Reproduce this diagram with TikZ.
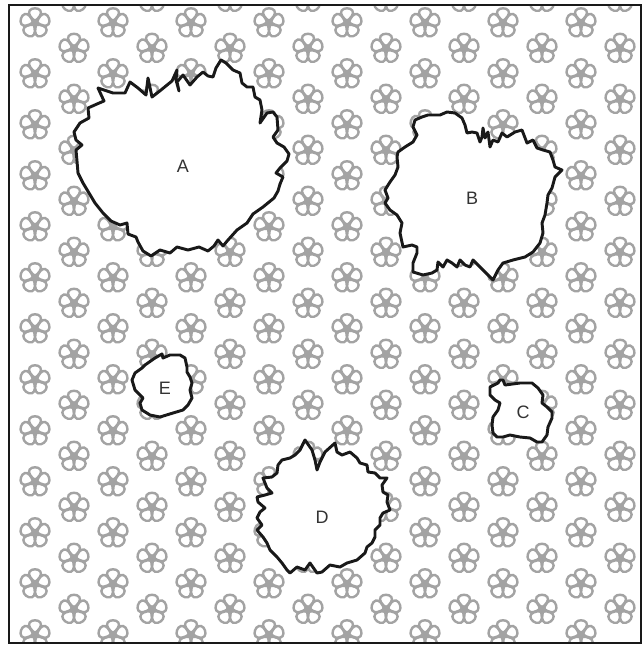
\documentclass[tikz,border=0pt]{standalone}
\usepackage{fontspec}
\setmainfont{Liberation Sans}
\definecolor{flowergray}{RGB}{163,163,163}
\definecolor{inkline}{RGB}{25,25,25}
\tikzset{
  blob/.style={draw=inkline, line width=2.2pt, fill=white, line join=round, line cap=round},
  lbl/.style={font=\fontsize{13.5}{15}\selectfont, text=black!80, inner sep=0pt},
  petal/.style={draw=flowergray, line width=1.8pt, fill=white},
  frameline/.style={draw=inkline, line width=1.5pt},
  flower/.pic={
    \foreach \a in {0,72,144,216,288}{
      \path[petal, rotate=\a] (0,-2) .. controls (-4,-5) and (-7.5,-9.5) .. (-5.3,-12.5)
        .. controls (-3.2,-15.5) and (3.2,-15.5) .. (5.3,-12.5)
        .. controls (7.5,-9.5) and (4,-5) .. (0,-2) -- cycle;
    }
    \fill[flowergray] (0,0) circle (3.1pt);
  }
}
\begin{document}
\begin{tikzpicture}[x=0.75pt,y=-0.75pt]
\useasboundingbox (0,0) rectangle (642,647);
\fill[white] (0,0) rectangle (642,647);
% flower pattern
\begin{scope}
\clip (9,5) rectangle (641,643);
\foreach \c in {0,2,...,16}{
  \foreach \r in {0,2,...,24}{
    \pic at ({35+39*\c},{23+25.5*\r}) {flower};
  }
}
\foreach \c in {1,3,...,15}{
  \foreach \r in {-1,1,...,25}{
    \pic at ({35+39*\c},{23+25.5*\r}) {flower};
  }
}
\end{scope}
% blob A
\draw[blob] (74,132) -- (80,123) -- (89,118) -- (88,108) -- (97,104) -- (104,101) -- (98,88) -- (113,93) -- (125,93) -- (130,82) -- (138,88) -- (146,95) -- (148,78) -- (152,97) -- (161,90) -- (172,81) -- (177,70) -- (176,80) -- (179,91) -- (177,82) -- (183,75) -- (190,85) -- (197,77) -- (203,72) -- (208,76) -- (213,77) -- (216,68) -- (221,60) -- (226,63) -- (233,70) -- (240,73) -- (242,83) -- (247,87) -- (253,87) -- (255,97) -- (260,100) -- (262,110) -- (260,123) -- (267,113) -- (273,112) -- (277,117) -- (278,130) -- (273,137) -- (277,143) -- (284,147) -- (289,154) -- (287,161) -- (280,168) -- (276,173) -- (283,177) -- (280,184) -- (278,191) -- (274,198) -- (263,207) -- (253,214) -- (247,223) -- (237,230) -- (228,240) -- (223,246) -- (218,240) -- (214,246) -- (208,251) -- (199,247) -- (188,250) -- (177,247) -- (170,253) -- (160,250) -- (151,256) -- (143,251) -- (138,242) -- (136,237) -- (128,234) -- (127,223) -- (120,225) -- (111,221) -- (103,213) -- (95,203) -- (89,193) -- (83,183) -- (78,173) -- (77,161) -- (76,150) -- (82,145) -- (76,140) -- cycle;
% blob B
\draw[blob] (415,120) -- (422,117) -- (428,115) -- (440,115) -- (447,112) -- (455,113) -- (462,118) -- (465,125) -- (467,133) -- (472,132) -- (477,133) -- (480,142) -- (482,137) -- (483,128) -- (485,138) -- (488,132) -- (490,147) -- (493,140) -- (498,142) -- (502,133) -- (507,137) -- (515,132) -- (522,130) -- (527,143) -- (533,140) -- (537,148) -- (543,150) -- (550,152) -- (553,160) -- (555,167) -- (562,170) -- (555,177) -- (552,188) -- (548,195) -- (547,203) -- (545,215) -- (542,223) -- (543,233) -- (540,243) -- (533,252) -- (525,257) -- (513,260) -- (503,263) -- (498,270) -- (493,280) -- (488,275) -- (480,267) -- (473,260) -- (470,267) -- (465,265) -- (460,260) -- (457,267) -- (452,263) -- (447,260) -- (443,267) -- (438,262) -- (437,270) -- (432,273) -- (423,275) -- (413,272) -- (413,263) -- (417,253) -- (417,247) -- (412,245) -- (403,247) -- (400,233) -- (402,223) -- (397,215) -- (390,210) -- (385,203) -- (388,198) -- (385,190) -- (390,182) -- (395,175) -- (398,167) -- (397,157) -- (398,152) -- (405,147) -- (413,142) -- (417,135) -- (413,127) -- cycle;
% blob E
\draw[blob] (145,365) -- (155,358) -- (162,354) -- (163,358) -- (170,355) -- (180,355) -- (185,358) -- (187,367) -- (187,372) -- (190,377) -- (192,383) -- (190,390) -- (192,398) -- (188,405) -- (183,410) -- (173,413) -- (160,417) -- (150,415) -- (142,410) -- (140,403) -- (143,398) -- (140,395) -- (135,390) -- (132,380) -- (135,373) -- (142,368) -- cycle;
% blob C
\draw[blob] (490,387) -- (498,383) -- (500,380) -- (503,380) -- (505,385) -- (520,383) -- (532,383) -- (538,388) -- (543,395) -- (542,403) -- (547,407) -- (552,412) -- (552,418) -- (548,427) -- (547,435) -- (542,442) -- (537,442) -- (530,438) -- (520,437) -- (510,435) -- (503,437) -- (497,437) -- (493,433) -- (492,425) -- (493,417) -- (498,410) -- (500,403) -- (495,400) -- (490,395) -- cycle;
% blob D
\draw[blob] (305,440) -- (312,450) -- (315,460) -- (317,470) -- (320,462) -- (325,452) -- (335,443) -- (337,452) -- (342,455) -- (350,452) -- (357,458) -- (360,463) -- (367,465) -- (368,472) -- (375,473) -- (380,478) -- (387,478) -- (382,485) -- (383,492) -- (388,495) -- (387,502) -- (390,510) -- (383,513) -- (380,518) -- (380,525) -- (375,530) -- (375,537) -- (372,543) -- (367,547) -- (365,553) -- (357,560) -- (347,563) -- (340,567) -- (330,565) -- (322,572) -- (317,573) -- (310,563) -- (305,570) -- (297,567) -- (290,573) -- (287,570) -- (282,563) -- (277,557) -- (270,550) -- (267,543) -- (263,537) -- (257,530) -- (262,525) -- (257,518) -- (260,512) -- (265,508) -- (258,502) -- (257,497) -- (265,495) -- (272,493) -- (267,488) -- (263,478) -- (272,477) -- (277,473) -- (278,465) -- (282,460) -- (290,458) -- (295,455) -- (300,450) -- cycle;
% labels
\node[lbl] (la) at (183,166) {A};
\node[lbl] (lb) at (472,198) {B};
\node[lbl] (lc) at (523,412) {C};
\node[lbl] (ld) at (322,517) {D};
\node[lbl] (le) at (165,388) {E};
% frame
\draw[frameline] (9,5) rectangle (641,643);
\end{tikzpicture}
\end{document}
